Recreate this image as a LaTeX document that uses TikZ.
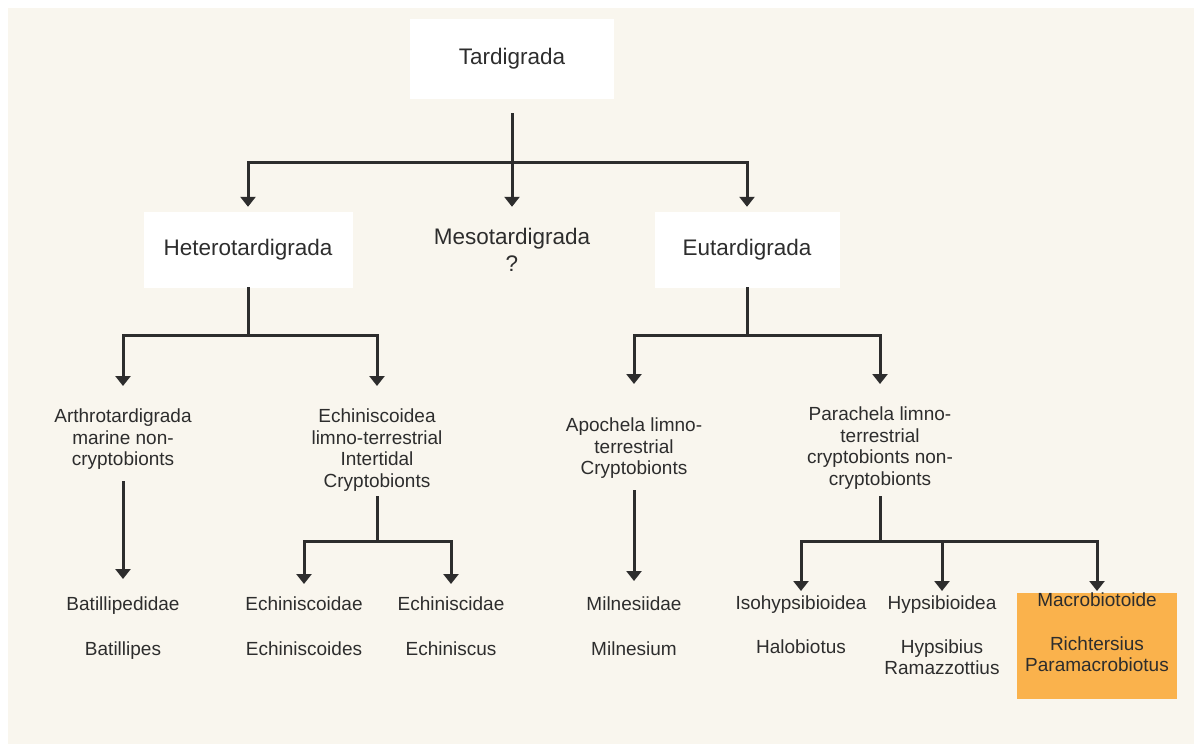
\documentclass[tikz,border=0pt]{standalone}
\usepackage{fontspec}
\setmainfont{Liberation Sans}
\usetikzlibrary{arrows.meta}
\definecolor{paper}{RGB}{249,246,238}
\definecolor{ink}{RGB}{45,45,45}
\definecolor{macrofill}{RGB}{250,178,76}

\begin{document}
\begin{tikzpicture}[x=1pt,y=-1pt]

\tikzset{>={Triangle[length=10pt,width=15pt]}}
\tikzset{link/.style={draw=ink,line width=3pt,line cap=rect}}
\tikzset{arr/.style={link,->}}
\tikzset{titlebox/.style={fill=white,inner sep=0pt,font=\fontsize{22.5}{27}\selectfont,text=ink,align=center}}
\tikzset{taxon/.style={inner sep=0pt,font=\fontsize{19}{21.5}\selectfont,text=ink,align=center}}
\def\busA{162}
\def\busB{335}
\def\busC{541}

\useasboundingbox (0,0) rectangle (1194,744);
\fill[white] (0,0) rectangle (1194,744);
\fill[paper] (8,8) rectangle (1194,744);

\node[titlebox,minimum width=204pt,minimum height=80pt] (tardi) at (512,59) {Tardigrada};

\node[titlebox,minimum width=209pt,minimum height=76pt] (hetero) at (248,250) {Heterotardigrada};
\node[titlebox,fill=none,minimum height=76pt] (meso) at (512,250) {Mesotardigrada\\?};
\node[titlebox,minimum width=185pt,minimum height=76pt] (euta) at (747,250) {Eutardigrada};

\node[taxon,anchor=north] (arthro) at (123,409) {Arthrotardigrada\\marine non-\\cryptobionts};
\node[taxon,anchor=north] (echinoidea) at (377,409) {Echiniscoidea\\limno-terrestrial\\Intertidal\\Cryptobionts};
\node[taxon,anchor=north] (apochela) at (634,418) {Apochela limno-\\terrestrial\\Cryptobionts};
\node[taxon,anchor=north] (parachela) at (880,407) {Parachela limno-\\terrestrial\\cryptobionts non-\\cryptobionts};

\node[taxon,anchor=north] (batil) at (123,597) {Batillipedidae\\[23pt]Batillipes};
\node[taxon,anchor=north] (echdae) at (304,597) {Echiniscoidae\\[23pt]Echiniscoides};
\node[taxon,anchor=north] (echidae) at (451,597) {Echiniscidae\\[23pt]Echiniscus};
\node[taxon,anchor=north] (miln) at (634,597) {Milnesiidae\\[23pt]Milnesium};
\node[taxon,anchor=north] (iso) at (801,596) {Isohypsibioidea\\[22pt]Halobiotus};
\node[taxon,anchor=north] (hyps) at (942,596) {Hypsibioidea\\[22pt]Hypsibius\\Ramazzottius};
\node[taxon,fill=macrofill,anchor=north] (macro) at (1097,593)
    {\parbox[t][106pt][t]{160pt}{\centering Macrobiotoide\\[22pt]Richtersius\\Paramacrobiotus}};

\coordinate (ta) at (512,\busA);
\coordinate (hj) at (248,\busB);
\coordinate (ej) at (747,\busB);
\coordinate (cj) at (377,\busC);
\coordinate (pj) at (880,\busC);

\draw[arr,shorten <=15pt,shorten >=5pt] (tardi.south) -- (meso.north);
\draw[link] (hetero.north |- ta) -- (euta.north |- ta);
\draw[arr,shorten >=5pt] (hetero.north |- ta) -- (hetero.north);
\draw[arr,shorten >=5pt] (euta.north |- ta) -- (euta.north);

\draw[link] (hetero.south) -- (hj);
\draw[link] (arthro.north |- hj) -- (echinoidea.north |- hj);
\draw[arr,shorten >=23pt] (arthro.north |- hj) -- (arthro.north);
\draw[arr,shorten >=23pt] (echinoidea.north |- hj) -- (echinoidea.north);

\draw[link] (euta.south) -- (ej);
\draw[link] (apochela.north |- ej) -- (parachela.north |- ej);
\draw[arr,shorten >=34pt] (apochela.north |- ej) -- (apochela.north);
\draw[arr,shorten >=23pt] (parachela.north |- ej) -- (parachela.north);

\draw[arr,shorten <=12pt,shorten >=18pt] (arthro.south) -- (batil.north);
\draw[arr,shorten <=12pt,shorten >=16pt] (apochela.south) -- (miln.north);

\draw[link,shorten <=6pt] (echinoidea.south) -- (cj);
\draw[link] (echdae.north |- cj) -- (echidae.north |- cj);
\draw[arr,shorten >=13pt] (echdae.north |- cj) -- (echdae.north);
\draw[arr,shorten >=13pt] (echidae.north |- cj) -- (echidae.north);

\draw[link,shorten <=8pt] (parachela.south) -- (pj);
\draw[link] (iso.north |- pj) -- (macro.north |- pj);
\draw[arr,shorten >=5pt] (iso.north |- pj) -- (iso.north);
\draw[arr,shorten >=5pt] (hyps.north |- pj) -- (hyps.north);
\draw[arr,shorten >=2pt] (macro.north |- pj) -- (macro.north);

\end{tikzpicture}
\end{document}
